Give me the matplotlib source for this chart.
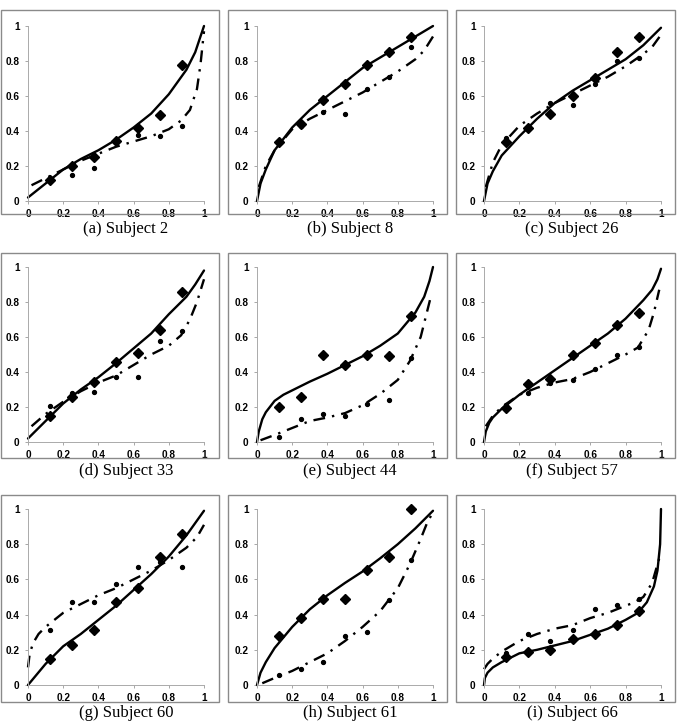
import numpy as np
import matplotlib
matplotlib.use("Agg")
import matplotlib.pyplot as plt
from matplotlib.patches import Rectangle

W, H = 678, 723

trial_x = [0.125, 0.25, 0.375, 0.5, 0.625, 0.75, 0.875]
ticks = [0, 0.2, 0.4, 0.6, 0.8, 1]
tick_labels = ['0', '0.2', '0.4', '0.6', '0.8', '1']
captions = ['(a) Subject 2', '(b) Subject 8', '(c) Subject 26',
            '(d) Subject 33', '(e) Subject 44', '(f) Subject 57',
            '(g) Subject 60', '(h) Subject 61', '(i) Subject 66']

# subject 2
diam_2 = [0.12, 0.20, 0.25, 0.345, 0.42, 0.49, 0.78]
dot_2 = [0.13, 0.15, 0.19, 0.335, 0.375, 0.37, 0.43]
sol_x_2 = [0, 0.05, 0.1, 0.2, 0.3, 0.4, 0.5, 0.6, 0.7, 0.8, 0.9, 0.95, 1]
sol_y_2 = [0.02, 0.06, 0.10, 0.18, 0.24, 0.29, 0.35, 0.42, 0.50, 0.61, 0.75, 0.85, 1.0]
dd_x_2 = [0.02, 0.1, 0.2, 0.3, 0.4, 0.5, 0.6, 0.7, 0.8, 0.87, 0.92, 0.96, 0.98, 1.0]
dd_y_2 = [0.09, 0.13, 0.18, 0.23, 0.27, 0.31, 0.34, 0.37, 0.41, 0.46, 0.52, 0.64, 0.78, 0.97]

# subject 8
diam_8 = [0.34, 0.44, 0.575, 0.67, 0.78, 0.85, 0.94]
dot_8 = [0.33, 0.43, 0.51, 0.50, 0.64, 0.71, 0.88]
sol_x_8 = [0, 0.02, 0.05, 0.1, 0.2, 0.3, 0.4, 0.5, 0.6, 0.7, 0.8, 0.9, 1.0]
sol_y_8 = [0, 0.10, 0.18, 0.29, 0.42, 0.52, 0.60, 0.68, 0.76, 0.82, 0.88, 0.94, 1.0]
dd_x_8 = [0.01, 0.05, 0.1, 0.2, 0.3, 0.4, 0.5, 0.6, 0.7, 0.8, 0.9, 0.95, 1.0]
dd_y_8 = [0.08, 0.20, 0.29, 0.41, 0.47, 0.52, 0.57, 0.62, 0.68, 0.74, 0.81, 0.86, 0.94]

# subject 26
diam_26 = [0.34, 0.42, 0.50, 0.60, 0.705, 0.85, 0.94]
dot_26 = [0.36, 0.42, 0.56, 0.55, 0.67, 0.80, 0.82]
sol_x_26 = [0, 0.02, 0.05, 0.1, 0.2, 0.3, 0.4, 0.5, 0.6, 0.7, 0.8, 0.9, 1.0]
sol_y_26 = [0, 0.10, 0.17, 0.26, 0.37, 0.47, 0.56, 0.63, 0.69, 0.75, 0.81, 0.89, 0.99]
dd_x_26 = [0.01, 0.05, 0.1, 0.2, 0.3, 0.4, 0.5, 0.6, 0.7, 0.8, 0.9, 0.95, 1.0]
dd_y_26 = [0.08, 0.22, 0.32, 0.43, 0.50, 0.56, 0.61, 0.66, 0.71, 0.77, 0.84, 0.88, 0.95]

# subject 33
diam_33 = [0.15, 0.26, 0.345, 0.46, 0.51, 0.64, 0.86]
dot_33 = [0.205, 0.28, 0.285, 0.37, 0.37, 0.58, 0.635]
sol_x_33 = [0, 0.1, 0.2, 0.3, 0.4, 0.5, 0.6, 0.7, 0.8, 0.9, 0.95, 1.0]
sol_y_33 = [0.02, 0.12, 0.22, 0.30, 0.37, 0.45, 0.535, 0.62, 0.73, 0.83, 0.90, 0.98]
dd_x_33 = [0.02, 0.1, 0.2, 0.3, 0.4, 0.5, 0.6, 0.7, 0.8, 0.87, 0.92, 0.96, 1.0]
dd_y_33 = [0.09, 0.16, 0.23, 0.29, 0.34, 0.38, 0.44, 0.50, 0.55, 0.61, 0.70, 0.80, 0.93]

# subject 44
diam_44 = [0.20, 0.26, 0.50, 0.44, 0.50, 0.49, 0.72]
dot_44 = [0.03, 0.13, 0.16, 0.15, 0.22, 0.24, 0.48]
sol_x_44 = [0, 0.01, 0.03, 0.05, 0.1, 0.15, 0.2, 0.3, 0.4, 0.5, 0.6, 0.7, 0.8, 0.9, 0.95, 0.98, 1.0]
sol_y_44 = [0, 0.06, 0.13, 0.17, 0.235, 0.27, 0.295, 0.345, 0.39, 0.44, 0.49, 0.55, 0.62, 0.74, 0.83, 0.92, 1.0]
dd_x_44 = [0.02, 0.1, 0.2, 0.3, 0.4, 0.5, 0.6, 0.7, 0.8, 0.87, 0.93, 0.96, 0.99]
dd_y_44 = [0.01, 0.04, 0.08, 0.12, 0.14, 0.165, 0.21, 0.275, 0.355, 0.465, 0.60, 0.72, 0.84]

# subject 57
diam_57 = [0.195, 0.33, 0.36, 0.50, 0.565, 0.67, 0.74]
dot_57 = [0.21, 0.28, 0.34, 0.355, 0.42, 0.50, 0.545]
sol_x_57 = [0, 0.01, 0.03, 0.05, 0.1, 0.2, 0.3, 0.4, 0.5, 0.6, 0.7, 0.8, 0.9, 0.95, 0.98, 1.0]
sol_y_57 = [0, 0.06, 0.11, 0.14, 0.19, 0.27, 0.34, 0.41, 0.48, 0.55, 0.62, 0.705, 0.81, 0.87, 0.93, 0.99]
dd_x_57 = [0.01, 0.05, 0.1, 0.2, 0.3, 0.4, 0.5, 0.6, 0.7, 0.8, 0.87, 0.93, 0.96, 0.99]
dd_y_57 = [0.09, 0.15, 0.20, 0.27, 0.31, 0.34, 0.36, 0.40, 0.45, 0.50, 0.54, 0.64, 0.74, 0.87]

# subject 60
diam_60 = [0.15, 0.23, 0.31, 0.47, 0.55, 0.725, 0.86]
dot_60 = [0.31, 0.47, 0.47, 0.575, 0.67, 0.70, 0.67]
sol_x_60 = [0, 0.1, 0.2, 0.3, 0.4, 0.5, 0.6, 0.7, 0.8, 0.9, 1.0]
sol_y_60 = [0, 0.12, 0.22, 0.29, 0.37, 0.45, 0.54, 0.63, 0.73, 0.85, 0.99]
dd_x_60 = [0, 0.01, 0.03, 0.06, 0.1, 0.2, 0.3, 0.4, 0.5, 0.6, 0.7, 0.8, 0.9, 0.96, 1.0]
dd_y_60 = [0.10, 0.18, 0.24, 0.29, 0.33, 0.41, 0.46, 0.51, 0.55, 0.60, 0.65, 0.71, 0.78, 0.84, 0.91]

# subject 61
diam_61 = [0.28, 0.38, 0.49, 0.49, 0.655, 0.725, 1.0]
dot_61 = [0.057, 0.09, 0.13, 0.28, 0.30, 0.485, 0.71]
sol_x_61 = [0, 0.02, 0.05, 0.1, 0.2, 0.3, 0.4, 0.5, 0.6, 0.7, 0.8, 0.9, 1.0]
sol_y_61 = [0, 0.07, 0.13, 0.21, 0.33, 0.43, 0.51, 0.58, 0.645, 0.72, 0.80, 0.89, 0.99]
dd_x_61 = [0.03, 0.1, 0.2, 0.3, 0.4, 0.5, 0.6, 0.7, 0.8, 0.87, 0.93, 0.97, 1.0]
dd_y_61 = [0.01, 0.04, 0.08, 0.13, 0.18, 0.25, 0.33, 0.42, 0.55, 0.69, 0.83, 0.93, 0.98]

# subject 66
diam_66 = [0.16, 0.19, 0.20, 0.26, 0.29, 0.34, 0.42]
dot_66 = [0.18, 0.29, 0.25, 0.315, 0.43, 0.455, 0.49]
sol_x_66 = [0, 0.005, 0.02, 0.05, 0.1, 0.2, 0.3, 0.4, 0.5, 0.6, 0.7, 0.8, 0.87, 0.92, 0.96, 0.98, 0.995, 1.0]
sol_y_66 = [0, 0.04, 0.07, 0.10, 0.13, 0.18, 0.20, 0.225, 0.25, 0.285, 0.32, 0.37, 0.41, 0.47, 0.56, 0.65, 0.80, 1.0]
dd_x_66 = [0, 0.02, 0.05, 0.1, 0.2, 0.3, 0.4, 0.5, 0.6, 0.7, 0.8, 0.85, 0.9, 0.95, 0.99]
dd_y_66 = [0.09, 0.12, 0.15, 0.19, 0.25, 0.29, 0.32, 0.34, 0.38, 0.41, 0.45, 0.47, 0.50, 0.58, 0.72]

panels = [
    (diam_2, dot_2, sol_x_2, sol_y_2, dd_x_2, dd_y_2),
    (diam_8, dot_8, sol_x_8, sol_y_8, dd_x_8, dd_y_8),
    (diam_26, dot_26, sol_x_26, sol_y_26, dd_x_26, dd_y_26),
    (diam_33, dot_33, sol_x_33, sol_y_33, dd_x_33, dd_y_33),
    (diam_44, dot_44, sol_x_44, sol_y_44, dd_x_44, dd_y_44),
    (diam_57, dot_57, sol_x_57, sol_y_57, dd_x_57, dd_y_57),
    (diam_60, dot_60, sol_x_60, sol_y_60, dd_x_60, dd_y_60),
    (diam_61, dot_61, sol_x_61, sol_y_61, dd_x_61, dd_y_61),
    (diam_66, dot_66, sol_x_66, sol_y_66, dd_x_66, dd_y_66),
]

# pixel layout (columns / rows)
ax_left = [28, 257, 484]
ax_right = [204, 433, 661]
ax_top = [26, 267, 509]
ax_bot = [201, 442, 685]
box_left = [1, 228, 456]
box_right = [219, 447, 675]
box_top = [10, 253, 495]
box_bot = [214, 458, 702]
cap_x = [126, 350, 572]
cap_y = [229, 471, 713]

fig = plt.figure(figsize=(W / 100, H / 100), dpi=100)

for k, (diam, dot, sx, sy, dx, dy) in enumerate(panels):
    r, c = divmod(k, 3)
    # grey frame around each panel
    fig.patches.append(Rectangle((box_left[c] / W, 1 - box_bot[r] / H),
                                 (box_right[c] - box_left[c]) / W,
                                 (box_bot[r] - box_top[r]) / H,
                                 transform=fig.transFigure, fill=False,
                                 edgecolor='#8a8a8a', linewidth=1.0))
    ax = fig.add_axes([ax_left[c] / W, 1 - ax_bot[r] / H,
                       (ax_right[c] - ax_left[c]) / W,
                       (ax_bot[r] - ax_top[r]) / H])
    ax.plot(sx, sy, color='black', lw=1.7, solid_capstyle='round')
    ax.plot(dx, dy, color='black', lw=1.7, linestyle=(0, (5, 3, 1, 3)))
    ax.plot(trial_x, diam, linestyle='none', marker='D', markersize=5,
            color='black')
    ax.plot(trial_x, dot, linestyle='none', marker='o', markersize=2.8,
            color='black')
    ax.set_xlim(0, 1)
    ax.set_ylim(0, 1)
    ax.set_xticks(ticks)
    ax.set_yticks(ticks)
    ax.set_xticklabels(tick_labels, fontsize=7.2, fontweight='bold',
                       family='Liberation Sans')
    ax.set_yticklabels(tick_labels, fontsize=7.2, fontweight='bold',
                       family='Liberation Sans')
    ax.tick_params(length=2, width=0.6, color='#999999', pad=4)
    for s in ['top', 'right']:
        ax.spines[s].set_visible(False)
    for s in ['left', 'bottom']:
        ax.spines[s].set_color('#aaaaaa')
        ax.spines[s].set_linewidth(0.7)
    ax.patch.set_alpha(0)
    for t in ax.lines:
        t.set_clip_on(False)
    fig.text(cap_x[c] / W, 1 - cap_y[r] / H, captions[k], ha='center',
             va='center', fontsize=12, family='Liberation Serif')

fig.savefig('out.png', dpi=100)
